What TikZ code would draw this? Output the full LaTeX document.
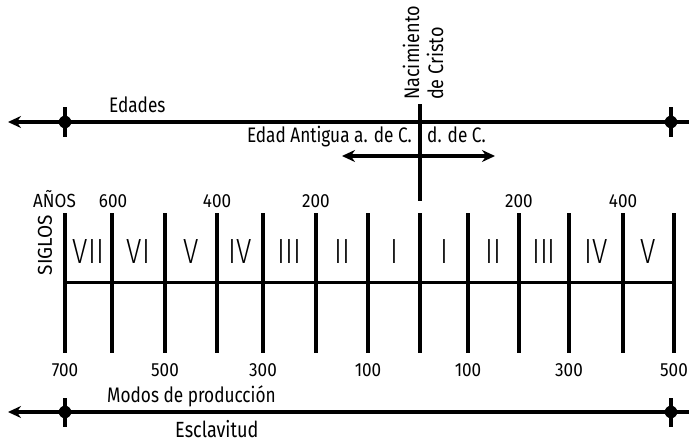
\documentclass[tikz,border=0pt]{standalone}
\usepackage{fontspec}
\setmainfont[FakeStretch=0.82]{Fira Sans}
\newfontfamily\romfont[FakeStretch=0.8]{Fira Sans Light}
\newfontfamily\widefont[FakeStretch=0.86]{Fira Sans}
\usetikzlibrary{arrows.meta}
\begin{document}
\begin{tikzpicture}[x=1pt,y=-1pt,
  ln/.style={line width=3.2pt,black},
  gl/.style={line width=3.2pt,black},
  thick line/.style={line width=4pt,black},
  lbl/.style={font=\fontsize{21}{24}\selectfont,inner sep=0pt},
  nac/.style={font=\widefont\fontsize{21}{24}\selectfont,inner sep=0pt,rotate=90,anchor=base west},
  num/.style={font=\fontsize{19}{22}\selectfont\addfontfeature{FakeStretch=0.9},inner sep=0pt,anchor=base},
  rom/.style={font=\romfont\fontsize{35}{38}\selectfont,inner sep=0pt,anchor=base},
  dot/.style={circle,fill=black,inner sep=0pt,minimum size=12.5pt},
  tipL/.style={{Stealth[length=13pt,width=12pt]}-},
  tipLR/.style={{Stealth[length=13pt,width=12pt]}-{Stealth[length=13pt,width=12pt]}}]
\useasboundingbox (0,0) rectangle (689,442);
% top timeline
\coordinate (eL) at (8,122); \coordinate (eR) at (689,122);
\draw[ln,tipL] (eL) -- (eR);
\node[dot] (d1) at (65,122) {}; \node[dot] (d2) at (671,122) {};
\draw[ln] (65,107) -- (65,137);
\draw[ln] (671,107) -- (671,137);
\node[lbl,anchor=base west] (edades) at (109,112) {Edades};
% birth of Christ
\coordinate (cT) at (420,104); \coordinate (cB) at (420,201);
\draw[thick line] (cT) -- (cB);
\node[nac] (nac1) at (419,100) {Nacimiento};
\node[nac] (nac2) at (443,100) {de Cristo};
\node[lbl,anchor=base east] (ea) at (412,142) {Edad Antigua a. de C.};
\node[lbl,anchor=base west] (dc) at (427,142) {d. de C.};
\coordinate (aL) at (342,156); \coordinate (aR) at (495,156);
\draw[ln,tipLR] (aL) -- (aR);
% years labels
\node[num,anchor=base west] (anos) at (33,207) {AÑOS};
\foreach \x/\t in {113/600,217/400,316/200,519/200,623/400}
  \node[num] at (\x,207) {\t};
\node[lbl,rotate=90,font=\fontsize{20}{22}\selectfont\addfontfeature{FakeStretch=0.95}] (siglos) at (45,245) {SIGLOS};
% century grid
\foreach \x in {65,112,165,217,263,316,368,468,519,569,623,674}
  \draw[gl] (\x,213) -- (\x,353);
\draw[thick line] (420,213) -- (420,353);
\draw[ln] (65,282.5) -- (674,282.5);
\foreach \x/\t in {88.5/VII,138.5/VI,191/V,240/IV,289.5/III,342/II,394/I,444/I,493.5/II,544/III,596/IV,648.5/V}
  \node[rom] at (\x,263) {\t};
\foreach \x/\t in {65/700,165/500,263/300,368/100,468/100,569/300,674/500}
  \node[num] at (\x,376) {\t};
% bottom timeline
\node[lbl,anchor=base west] (modos) at (107,402) {Modos de producción};
\coordinate (bL) at (8,412); \coordinate (bR) at (689,412);
\draw[ln,tipL] (bL) -- (bR);
\node[dot] (d3) at (65,412) {}; \node[dot] (d4) at (671,412) {};
\draw[ln] (65,398) -- (65,427);
\draw[ln] (671,398) -- (671,427);
\node[lbl,anchor=base west,font=\fontsize{22}{24}\selectfont] (escl) at (175,437) {Esclavitud};
\end{tikzpicture}
\end{document}
